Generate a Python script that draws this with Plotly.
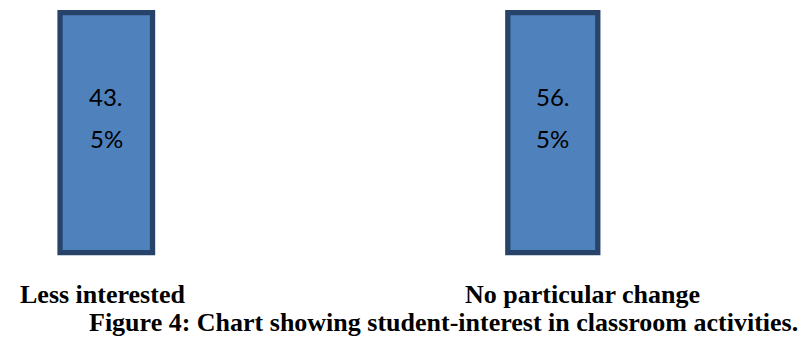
import plotly.graph_objects as go
from plotly.subplots import make_subplots

# ---- data ----
categories = ["Less interested", "No particular change"]
percentages = [43.5, 56.5]
caption = "Figure 4: Chart showing student-interest in classroom activities."

W, H = 802, 340
FILL = "#4F81BD"
EDGE = "#27436A"

fig = make_subplots(rows=1, cols=2)

# pixel layout of each panel (centre of bar, px)
centres = [106.3, 552.8]
panel_w = 100.0
bar_w = [0.925, 0.9]
dom_top_px, dom_bot_px = 4.0, 258.0
bar_top_px, bar_bot_px = 12.7, 252.7

for i, (cat, val) in enumerate(zip(categories, percentages)):
    col = i + 1
    fig.add_trace(
        go.Bar(
            x=[cat], y=[val],
            width=bar_w[i],
            marker=dict(color=FILL, line=dict(color=EDGE, width=5.3)),
            hoverinfo="skip", showlegend=False,
        ),
        row=1, col=col,
    )
    # each panel gets its own value scale, so every bar fills its panel
    unit = val / (bar_bot_px - bar_top_px)
    lo = -unit * (dom_bot_px - bar_bot_px)
    hi = val + unit * (bar_top_px - dom_top_px)
    c = centres[i]
    xd = [(c - panel_w / 2) / W, (c + panel_w / 2) / W]
    yd = [(H - dom_bot_px) / H, (H - dom_top_px) / H]
    xa = "xaxis" if col == 1 else f"xaxis{col}"
    ya = "yaxis" if col == 1 else f"yaxis{col}"
    fig.layout[xa].update(domain=xd, range=[-0.5, 0.5], visible=False, fixedrange=True)
    fig.layout[ya].update(domain=yd, range=[lo, hi], visible=False, fixedrange=True)

    # value label, wrapped like the original ("43." / "5%")
    txt = f"{val}%"
    dot = txt.index(".") + 1
    parts = [txt[:dot], txt[dot:]]
    xref = "x" if col == 1 else f"x{col}"
    for j, p in enumerate(parts):
        ymid_px = [96.0, 138.0][j]
        fig.add_annotation(
            x=cat, xref=xref, y=(H - ymid_px) / H, yref="paper",
            text=p, showarrow=False, xanchor="center", yanchor="middle",
            font=dict(family="Lato, Open Sans, sans-serif", size=24, color="#000000"),
        )

# category labels
label_left = [18.0, 463.0]
for cat, xp in zip(categories, label_left):
    fig.add_annotation(
        x=xp / W, xref="paper", y=(H - 294.0) / H, yref="paper",
        text=f"<b>{cat}</b>", showarrow=False, xanchor="left", yanchor="middle",
        font=dict(family="Liberation Serif, Times New Roman, serif", size=26, color="#000000"),
    )

# caption
fig.add_annotation(
    x=800 / W, xref="paper", y=(H - 322.0) / H, yref="paper",
    text=f"<b>{caption}</b>", showarrow=False, xanchor="right", yanchor="middle",
    font=dict(family="Liberation Serif, Times New Roman, serif", size=26, color="#000000"),
)

fig.update_layout(
    width=W, height=H,
    margin=dict(l=0, r=0, t=0, b=0),
    paper_bgcolor="#FFFFFF", plot_bgcolor="rgba(0,0,0,0)",
    showlegend=False,
)

fig.write_html("out.html")
